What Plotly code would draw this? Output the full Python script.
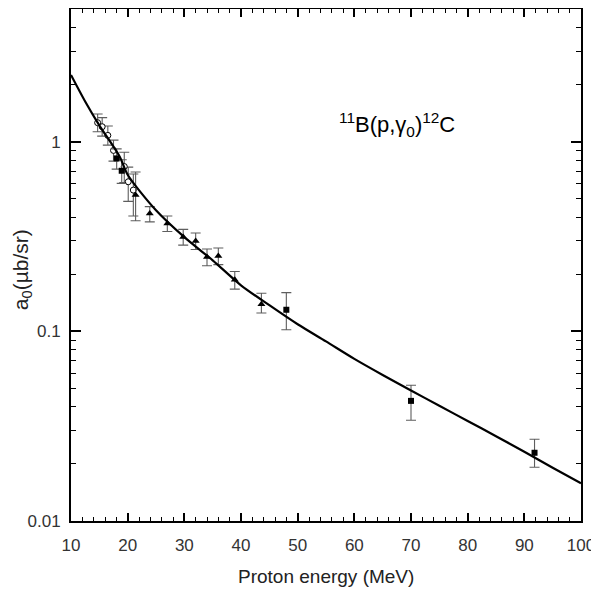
import plotly.graph_objects as go

# Fitted curve
curve_x = [10, 12.5, 15, 18.6, 20, 25, 30, 35, 40, 45, 50, 55, 60, 65, 70, 75, 80, 85, 90, 95, 100]
curve_y = [2.25, 1.63, 1.22, 0.834, 0.67, 0.435, 0.314, 0.237, 0.175, 0.1374, 0.109, 0.0885,
           0.0716, 0.0589, 0.0488, 0.0405, 0.0337, 0.0280, 0.0232, 0.0191, 0.0158]

# Open circles
circ_x = [14.7, 15.5, 16.5, 17.5, 19.4, 20.1, 21.0]
circ_y = [1.26, 1.20, 1.08, 0.90, 0.74, 0.615, 0.556]
circ_ep = [0.14, 0.14, 0.13, 0.12, 0.14, 0.12, 0.12]
circ_em = [0.13, 0.13, 0.12, 0.11, 0.13, 0.13, 0.15]

# Filled squares
sq_x = [18.06, 18.95, 48.0, 70.0, 91.8]
sq_y = [0.817, 0.703, 0.130, 0.043, 0.0229]
sq_ep = [0.10, 0.10, 0.030, 0.009, 0.0041]
sq_em = [0.10, 0.10, 0.028, 0.009, 0.0037]

# Filled triangles
tri_x = [21.4, 23.9, 27.0, 29.8, 32.0, 34.0, 36.0, 38.9, 43.6]
tri_y = [0.523, 0.419, 0.371, 0.315, 0.300, 0.247, 0.250, 0.187, 0.139]
tri_ep = [0.17, 0.036, 0.035, 0.030, 0.030, 0.025, 0.025, 0.020, 0.020]
tri_em = [0.14, 0.041, 0.035, 0.030, 0.030, 0.025, 0.025, 0.020, 0.014]

x_ticks = [10, 20, 30, 40, 50, 60, 70, 80, 90, 100]
y_ticks = [0.01, 0.1, 1]
y_ticktext = ["0.01", "0.1", "1"]
y_minor = [k * d for d in (0.01, 0.1, 1) for k in range(2, 10)]

ERR = "#5e5e5e"
FONT = "Liberation Sans, Arial, sans-serif"

fig = go.Figure()

def err(ep, em):
    return dict(type="data", array=ep, arrayminus=em, color=ERR, thickness=1.1, width=5, visible=True)

fig.add_trace(go.Scatter(x=circ_x, y=circ_y, mode="markers",
                         marker=dict(symbol="circle", size=6, color="white", line=dict(color="black", width=1)),
                         error_y=err(circ_ep, circ_em), showlegend=False))
fig.add_trace(go.Scatter(x=sq_x, y=sq_y, mode="markers",
                         marker=dict(symbol="square", size=6, color="black"),
                         error_y=err(sq_ep, sq_em), showlegend=False))
fig.add_trace(go.Scatter(x=tri_x, y=tri_y, mode="markers",
                         marker=dict(symbol="triangle-up", size=7, color="black"),
                         error_y=err(tri_ep, tri_em), showlegend=False))
fig.add_trace(go.Scatter(x=curve_x, y=curve_y, mode="lines",
                         line=dict(color="black", width=2.2, shape="spline", smoothing=0.8),
                         showlegend=False))

fig.add_annotation(x=0.639, y=0.775, xref="paper", yref="paper",
                   text="<sup>11</sup>B(p,γ<sub>0</sub>)<sup>12</sup>C",
                   showarrow=False, font=dict(size=22, color="black", family=FONT),
                   xanchor="center", yanchor="middle")
fig.add_annotation(x=-0.096, y=0.49, xref="paper", yref="paper",
                   text="a<sub>0</sub>(µb/sr)", textangle=-90,
                   showarrow=False, font=dict(size=21, color="#222", family=FONT),
                   xanchor="center", yanchor="middle")
fig.add_annotation(x=0.5, y=-0.109, xref="paper", yref="paper",
                   text="Proton energy (MeV)",
                   showarrow=False, font=dict(size=19, color="#222", family=FONT),
                   xanchor="center", yanchor="middle")

fig.update_xaxes(range=[10, 100], tickvals=x_ticks, ticks="inside", ticklen=8, tickwidth=2,
                 tickcolor="black", showline=True, linecolor="black", linewidth=2, mirror="ticks",
                 showgrid=False, zeroline=False, automargin=False,
                 minor=dict(ticks="inside", ticklen=4, tickwidth=1, tickcolor="black", dtick=2, showgrid=False),
                 tickfont=dict(size=17, color="#333", family=FONT),
                 ticklabelstandoff=8)
fig.update_yaxes(type="log", range=[-2, 0.70], tickvals=y_ticks, ticktext=y_ticktext,
                 ticks="inside", ticklen=10, tickwidth=2, tickcolor="black",
                 showline=True, linecolor="black", linewidth=2, mirror="ticks",
                 showgrid=False, zeroline=False, automargin=False,
                 minor=dict(ticks="inside", ticklen=5, tickwidth=1, tickcolor="black", tickvals=y_minor, showgrid=False),
                 tickfont=dict(size=17, color="#333", family=FONT),
                 ticklabelstandoff=5)

# page body adds an 8px offset; margins compensate so the plot area lands where the reference has it
fig.update_layout(width=599, height=591, plot_bgcolor="white", paper_bgcolor="white",
                  margin=dict(l=63, r=26, t=1, b=78), showlegend=False)

fig.write_html("out.html")
